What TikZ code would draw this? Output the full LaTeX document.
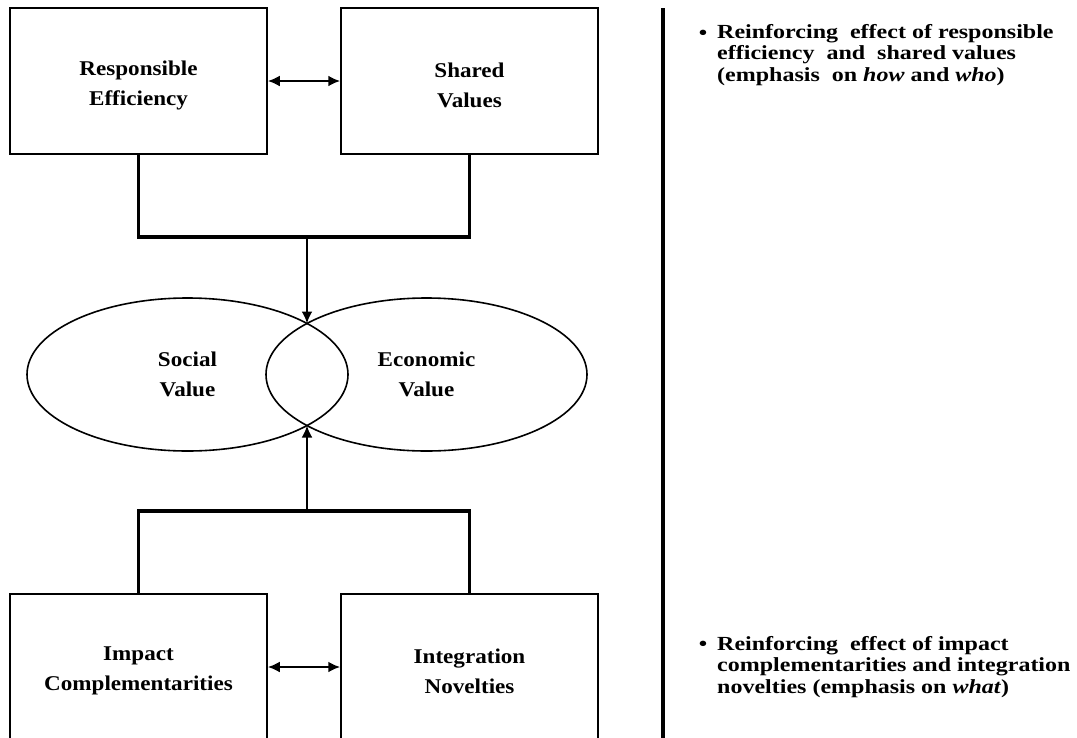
\documentclass[tikz,border=0pt]{standalone}
\usepackage{fontspec}
\setmainfont{Liberation Serif}[FakeStretch=1.1]
\newfontfamily\sidefont{Liberation Serif}[FakeStretch=1.2]
\usetikzlibrary{arrows.meta,shapes.geometric}
\begin{document}
\begin{tikzpicture}[x=1pt,y=-1pt,
  boxnode/.style={draw,line width=1.5pt,minimum width=257pt,minimum height=146pt,inner sep=0pt},
  boxtext/.style={align=center,inner sep=0pt,font=\fontsize{21}{30}\selectfont\bfseries},
  ellnode/.style={draw,ellipse,line width=1.6pt,minimum width=321pt,minimum height=153pt,inner sep=0pt,
    align=center,font=\fontsize{21}{30}\selectfont\bfseries},
  bracket/.style={line width=3.3pt,line join=miter},
  dblarrow/.style={line width=2.8pt,{Latex[length=12pt,width=11pt]}-{Latex[length=12pt,width=11pt]}},
  uparrow/.style={line width=2.8pt,-{Latex[length=12pt,width=11pt]}},
  sidetext/.style={anchor=west,align=left,inner sep=0pt,font=\sidefont\fontsize{20}{21.7}\selectfont\bfseries},
  bulletnode/.style={inner sep=0pt,font=\sidefont\fontsize{20}{21.7}\selectfont\bfseries}
]
\useasboundingbox (0,0) rectangle (1077,737);

% boxes
\node[boxnode] (re) at (138.5,81) {};
\node[boxnode] (sh) at (469.5,81) {};
\node[boxnode] (ic) at (138.5,667) {};
\node[boxnode] (in) at (469.5,667) {};
\node[boxtext] (ret) at ([yshift=-4pt]re.center) {Responsible\\Efficiency};
\node[boxtext] (sht) at ([yshift=-4pt]sh.center) {Shared\\Values};
\node[boxtext] (ict) at ([yshift=-4pt]ic.center) {Impact\\Complementarities};
\node[boxtext] (int) at ([yshift=-4pt]in.center) {Integration\\Novelties};

% ellipses
\node[ellnode] (so) at (187.5,374.5) {Social\\Value};
\node[ellnode] (ec) at (426.5,374.5) {Economic\\Value};
\coordinate (itop) at (307,323.5);
\coordinate (ibot) at (307,425.5);

% double arrows
\draw[dblarrow] (re.east) -- (sh.west);
\draw[dblarrow] (ic.east) -- (in.west);

% brackets
\coordinate (tj) at (307,237);
\coordinate (bj) at (307,511);
\draw[bracket] (re.south) |- (tj) -| (sh.south);
\draw[uparrow] (tj) -- (itop);
\draw[bracket] (ic.north) |- (bj) -| (in.north);
\draw[uparrow] (bj) -- (ibot);

% divider
\coordinate (dtop) at (663,8);
\coordinate (dbot) at (663,740);
\draw[line width=3.3pt] (dtop) -- (dbot);

% side texts
\node[bulletnode] (b1) at (703,35) {\textbullet};
\node[sidetext] (t1) at (717,55) {Reinforcing\ \ effect of responsible\\efficiency\ \ and\ \ shared values\\(emphasis\ \ on \textit{how} and \textit{who})};
\node[bulletnode] (b2) at (703,646) {\textbullet};
\node[sidetext] (t2) at (717,667) {Reinforcing\ \ effect of impact\\complementarities and integration\\novelties (emphasis on \textit{what})};
\end{tikzpicture}
\end{document}
